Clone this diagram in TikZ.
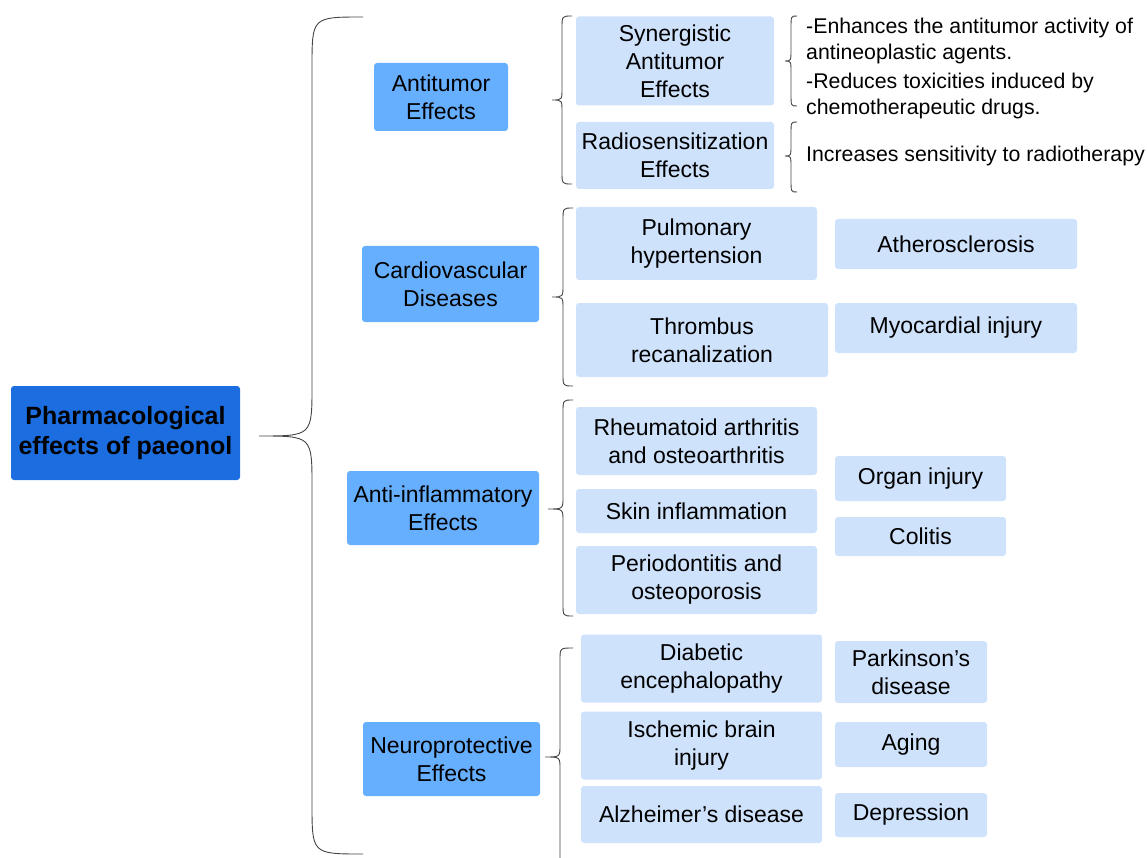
\documentclass[tikz,border=0pt]{standalone}
\usepackage{fontspec}
\setmainfont{Liberation Sans}
\definecolor{rootblue}{HTML}{1C6EE0}
\definecolor{midblue}{HTML}{66AFFF}
\definecolor{paleblue}{HTML}{CFE2FC}
\definecolor{braceg}{HTML}{444444}
\newcommand{\bracepath}[7]{%
  \draw[bline] (#1,#4) .. controls (#2,#4) .. (#2,{#4+#7}) -- (#2,{#5-#7})
    .. controls (#2,#5) .. (#3,#5) .. controls (#2,#5) .. (#2,{#5+#7})
    -- (#2,{#6-#7}) .. controls (#2,#6) .. (#1,#6);}
\tikzset{
  box/.style={rounded corners=3pt, inner sep=0pt, align=center, text=black,
    font=\fontsize{23}{28}\selectfont},
  rootbox/.style={box, fill=rootblue, font=\fontsize{25}{30}\selectfont\bfseries},
  lvlone/.style={box, fill=midblue},
  lvltwo/.style={box, fill=paleblue},
  desc/.style={anchor=west, inner sep=0pt, align=left, text=black,
    font=\fontsize{21.3}{26}\selectfont},
  bline/.style={draw=braceg, line width=0.9pt}
}
\begin{document}
\begin{tikzpicture}[x=1pt,y=-1pt]
\useasboundingbox (0,0) rectangle (1147,858);

% root
\node[rootbox, minimum width=229pt, minimum height=94pt] (root) at (125.5,433) {Pharmacological\\effects of paeonol};

% big brace
\bracepath{363}{312}{259}{17}{436}{854}{50}

% level 1
\node[lvlone, minimum width=134pt, minimum height=68pt] (anti) at (441,97) {Antitumor\\Effects};
\node[lvlone, minimum width=177pt, minimum height=76pt] (cardio) at (450.5,284) {Cardiovascular\\Diseases};
\node[lvlone, minimum width=192pt, minimum height=74pt] (infl) at (443,508) {Anti-inflammatory\\Effects};
\node[lvlone, minimum width=177pt, minimum height=74pt] (neuro) at (451.5,759) {Neuroprotective\\Effects};

% small braces
\bracepath{572}{562}{552}{16}{100}{184}{12}
\bracepath{573}{563}{552}{208}{297}{386}{12}
\bracepath{573}{563}{548}{400}{509}{616}{12}
\bracepath{573}{560}{545}{648}{757}{866}{12}

% level 2
\node[lvltwo, minimum width=198pt, minimum height=89pt] (syn) at (675,61) {Synergistic\\Antitumor\\Effects};
\node[lvltwo, minimum width=198pt, minimum height=67pt] (rad) at (675,155.5) {Radiosensitization\\Effects};
\node[lvltwo, minimum width=241pt, minimum height=73pt] (pul) at (696.5,243.5) {Pulmonary\\hypertension};
\node[lvltwo, minimum width=252pt, minimum height=74pt] (thr) at (702,340) {Thrombus\\recanalization};
\node[lvltwo, minimum width=241pt, minimum height=68pt] (rhe) at (696.5,441) {Rheumatoid arthritis\\and osteoarthritis};
\node[lvltwo, minimum width=241pt, minimum height=44pt] (skin) at (696.5,511) {Skin inflammation};
\node[lvltwo, minimum width=241pt, minimum height=68pt] (peri) at (696.5,580) {Periodontitis and\\osteoporosis};
\node[lvltwo, minimum width=241pt, minimum height=68pt] (dia) at (701.5,668.5) {Diabetic\\encephalopathy};
\node[lvltwo, minimum width=241pt, minimum height=68pt] (isc) at (701.5,745.5) {Ischemic brain\\injury};
\node[lvltwo, minimum width=241pt, minimum height=57pt] (alz) at (701.5,814.5) {Alzheimer’s disease};

% level 3
\node[lvltwo, minimum width=242pt, minimum height=50pt] (ath) at (956,244) {Atherosclerosis};
\node[lvltwo, minimum width=242pt, minimum height=50pt] (myo) at (956,328) {Myocardial injury};
\node[lvltwo, minimum width=171pt, minimum height=45pt] (org) at (920.5,478.5) {Organ injury};
\node[lvltwo, minimum width=171pt, minimum height=39pt] (col) at (920.5,536.5) {Colitis};
\node[lvltwo, minimum width=152pt, minimum height=62pt] (park) at (911,672) {Parkinson’s\\disease};
\node[lvltwo, minimum width=152pt, minimum height=45pt] (aging) at (911,744.5) {Aging};
\node[lvltwo, minimum width=152pt, minimum height=44pt] (dep) at (911,815) {Depression};

% description braces
\bracepath{797}{791}{785}{16}{61}{106}{12}
\bracepath{797}{791}{785}{122}{156}{192}{12}

% descriptions
\node[desc] (d1) at (806,41) {-Enhances the antitumor activity of\\antineoplastic agents.};
\node[desc] (d2) at (806,96) {-Reduces toxicities induced by\\chemotherapeutic drugs.};
\node[desc] (d3) at (806,156) {Increases sensitivity to radiotherapy};
\end{tikzpicture}
\end{document}
